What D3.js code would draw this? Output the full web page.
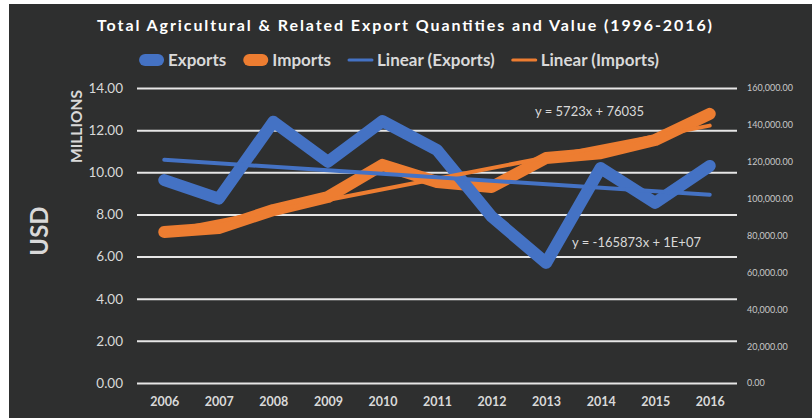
<!DOCTYPE html>
<html>
<head>
<meta charset="utf-8">
<script src="https://cdn.jsdelivr.net/npm/d3@7"></script>
<style>
  body { margin: 0; background: #ffffff; }
  text { font-family: Lato, "Open Sans", sans-serif; }
</style>
</head>
<body>
<div id="wrapper"></div>
<script>
// data
const years = ["2006", "2007", "2008", "2009", "2010", "2011", "2012", "2013", "2014", "2015", "2016"]
const exportsMillions = [9.63, 8.75, 12.4, 10.5, 12.43, 11.06, 7.9, 5.7, 10.2, 8.55, 10.3]
const importsValue = [81900, 84100, 93800, 100900, 118300, 109000, 106300, 122000, 124600, 131800, 146000]
const leftTicks = [0, 2, 4, 6, 8, 10, 12, 14]
const rightTicks = [0, 20000, 40000, 60000, 80000, 100000, 120000, 140000, 160000]
const titleText = "Total Agricultural & Related Export Quantities and Value (1996-2016)"
const legendItems = [
  { label: "Exports", color: "#4472c4", thick: true },
  { label: "Imports", color: "#ed7d31", thick: true },
  { label: "Linear (Exports)", color: "#4472c4", thick: false },
  { label: "Linear (Imports)", color: "#ed7d31", thick: false },
]
const exportsEquation = "y = -165873x + 1E+07"
const importsEquation = "y = 5723x + 76035"

const dimensions = {
  width: 812,
  height: 419,
  margin: { top: 88, right: 75, bottom: 36, left: 137 },
}
dimensions.boundedWidth = dimensions.width - dimensions.margin.left - dimensions.margin.right
dimensions.boundedHeight = dimensions.height - dimensions.margin.top - dimensions.margin.bottom

const textColor = "#d9d9d9"

const svg = d3.select("#wrapper")
  .append("svg")
  .attr("width", dimensions.width)
  .attr("height", dimensions.height)
  .style("display", "block")

// chart area (white strip left / top like the screenshot)
svg.append("rect")
  .attr("x", 9).attr("y", 4)
  .attr("width", dimensions.width - 9)
  .attr("height", dimensions.height - 5)
  .attr("fill", "#2e2f2f")

const bounds = svg.append("g")
  .attr("transform", `translate(${dimensions.margin.left},${dimensions.margin.top})`)

// scales
const xScale = d3.scalePoint()
  .domain(years)
  .range([0, dimensions.boundedWidth])
  .padding(0.5)

const yLeft = d3.scaleLinear()
  .domain([0, 14])
  .range([dimensions.boundedHeight, 0])

const yRight = d3.scaleLinear()
  .domain([0, 160000])
  .range([dimensions.boundedHeight, 0])

// left axis + gridlines
const leftAxis = bounds.append("g")
  .call(d3.axisLeft(yLeft)
    .tickValues(leftTicks)
    .tickFormat(d3.format(".2f"))
    .tickSizeInner(-dimensions.boundedWidth)
    .tickSizeOuter(0)
    .tickPadding(14))
leftAxis.select(".domain").remove()
leftAxis.selectAll("line").attr("stroke", "#e6e6e6").attr("stroke-width", 2)
leftAxis.selectAll("text")
  .attr("fill", textColor)
  .style("font-size", "13.5px")

// right axis
const rightAxis = bounds.append("g")
  .attr("transform", `translate(${dimensions.boundedWidth},0)`)
  .call(d3.axisRight(yRight)
    .tickValues(rightTicks)
    .tickFormat(d3.format(",.2f"))
    .tickSize(0)
    .tickPadding(10))
rightAxis.select(".domain").remove()
rightAxis.selectAll("text")
  .attr("fill", "#c8c8c8")
  .style("font-size", "9px")

// x axis
const xAxis = bounds.append("g")
  .attr("transform", `translate(0,${dimensions.boundedHeight})`)
  .call(d3.axisBottom(xScale).tickSize(0).tickPadding(14))
xAxis.select(".domain").remove()
xAxis.selectAll("text")
  .attr("fill", textColor)
  .style("font-size", "12.5px")
  .style("font-weight", "bold")

// series lines
const exportLine = d3.line()
  .x((d, i) => xScale(years[i]))
  .y((d) => yLeft(d))

const importLine = d3.line()
  .x((d, i) => xScale(years[i]))
  .y((d) => yRight(d))

bounds.append("path")
  .datum(importsValue)
  .attr("d", importLine)
  .attr("fill", "none")
  .attr("stroke", "#ed7d31")
  .attr("stroke-width", 12)
  .attr("stroke-linecap", "round")
  .attr("stroke-linejoin", "round")

bounds.append("path")
  .datum(exportsMillions)
  .attr("d", exportLine)
  .attr("fill", "none")
  .attr("stroke", "#4472c4")
  .attr("stroke-width", 12)
  .attr("stroke-linecap", "round")
  .attr("stroke-linejoin", "round")

// linear trend lines (least squares on x = 1..n)
const fit = (values) => {
  const xs = values.map((d, i) => i + 1)
  const mx = d3.mean(xs)
  const my = d3.mean(values)
  const slope = d3.sum(xs, (x, i) => (x - mx) * (values[i] - my)) / d3.sum(xs, (x) => (x - mx) ** 2)
  const intercept = my - slope * mx
  return values.map((d, i) => intercept + slope * (i + 1))
}

const importTrend = fit(importsValue)
const exportTrend = fit(exportsMillions)
const firstYear = years[0]
const lastYear = years[years.length - 1]

bounds.append("line")
  .attr("x1", xScale(firstYear)).attr("x2", xScale(lastYear))
  .attr("y1", yRight(importTrend[0])).attr("y2", yRight(importTrend[importTrend.length - 1]))
  .attr("stroke", "#ed7d31")
  .attr("stroke-width", 4)
  .attr("stroke-linecap", "round")

bounds.append("line")
  .attr("x1", xScale(firstYear)).attr("x2", xScale(lastYear))
  .attr("y1", yLeft(exportTrend[0])).attr("y2", yLeft(exportTrend[exportTrend.length - 1]))
  .attr("stroke", "#4472c4")
  .attr("stroke-width", 4)
  .attr("stroke-linecap", "round")

// trend equations
svg.append("text")
  .attr("x", 535).attr("y", 116)
  .attr("fill", textColor)
  .style("font-size", "13px")
  .text(importsEquation)

svg.append("text")
  .attr("x", 572).attr("y", 247)
  .attr("fill", textColor)
  .style("font-size", "13px")
  .text(exportsEquation)

// title
svg.append("text")
  .attr("x", 97).attr("y", 31)
  .attr("fill", "#ffffff")
  .attr("textLength", 615)
  .attr("lengthAdjust", "spacing")
  .style("font-size", "16px")
  .style("font-weight", "bold")
  .text(titleText)

// legend
const legend = svg.append("g")
let cursor = 0
legendItems.forEach((item) => {
  const g = legend.append("g").attr("transform", `translate(${cursor},0)`)
  if (item.thick) {
    g.append("line")
      .attr("x1", 6).attr("x2", 19).attr("y1", 0).attr("y2", 0)
      .attr("stroke", item.color).attr("stroke-width", 12).attr("stroke-linecap", "round")
  } else {
    g.append("line")
      .attr("x1", 1).attr("x2", 24).attr("y1", 0).attr("y2", 0)
      .attr("stroke", item.color).attr("stroke-width", 3).attr("stroke-linecap", "round")
  }
  const t = g.append("text")
    .attr("x", 29).attr("y", 0).attr("dy", "0.36em")
    .attr("fill", textColor)
    .style("font-size", "17px")
    .style("font-weight", "bold")
    .text(item.label)
  cursor += 29 + t.node().getComputedTextLength() + 17
})
const legendWidth = cursor - 17
legend.attr("transform", `translate(${399 - legendWidth / 2},60)`)

// axis titles
svg.append("text")
  .attr("transform", "translate(82,126.5) rotate(-90)")
  .attr("text-anchor", "middle")
  .attr("fill", textColor)
  .style("font-size", "15.5px")
  .style("font-weight", "bold")
  .text("MILLIONS")

svg.append("text")
  .attr("transform", "translate(48,231) rotate(-90)")
  .attr("text-anchor", "middle")
  .attr("fill", textColor)
  .style("font-size", "24px")
  .style("font-weight", "bold")
  .text("USD")
</script>
</body>
</html>
